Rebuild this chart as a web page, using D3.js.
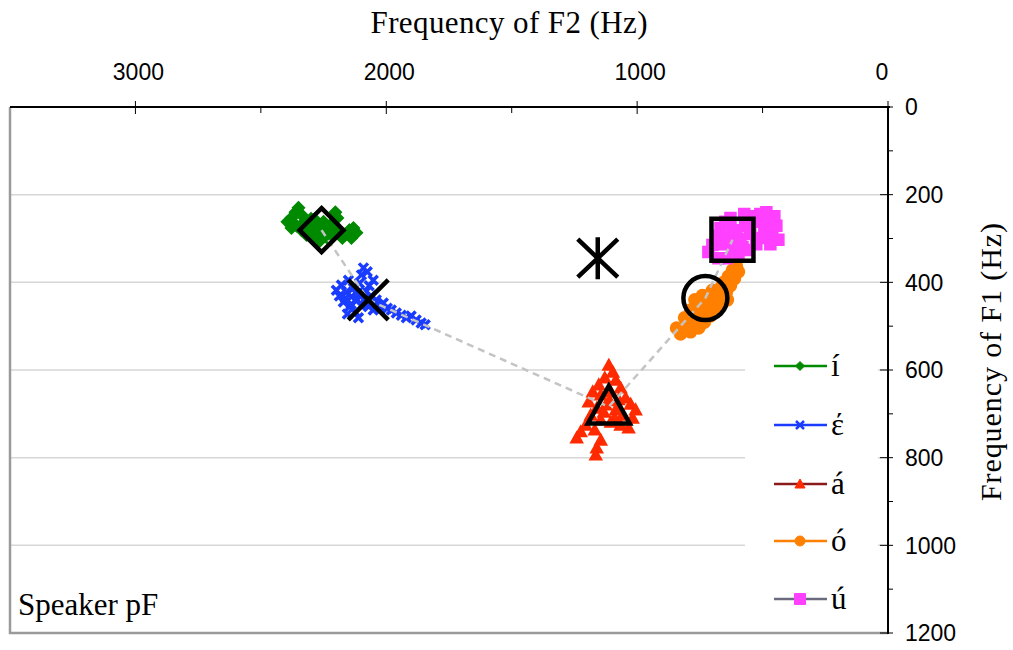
<!DOCTYPE html>
<html>
<head>
<meta charset="utf-8">
<script src="https://cdn.jsdelivr.net/npm/d3@7"></script>
<style>
  body { margin: 0; background: #fff; }
  svg { display: block; }
</style>
</head>
<body>
<script>
// vowel categories, legend order
var vowels = ["í", "έ", "á", "ó", "ú"];
var pointColors = ["#008a00", "#1a3cff", "#ff2a00", "#ff8000", "#ff40ff"];
var legendLineColors = ["#008a00", "#1a3cff", "#8b1a1a", "#ff8000", "#6b6b80"];

// tokens [F2, F1] in Hz
var tokensI = [[2394,262],[2378,253],[2362,240],[2350,230],[2338,246],[2358,271],[2326,262],[2314,281],[2298,269],[2286,256],[2274,271],[2258,285],[2250,262],[2238,297],[2227,278],[2215,294],[2203,240],[2195,253],[2187,283],[2175,299],[2163,290],[2147,281],[2131,276],[2119,287],[2139,299],[2290,299],[2318,292],[2338,281],[2266,306],[2378,276],[2219,267],[2260,280],[2240,270],[2280,290],[2300,255],[2205,275]];
var tokensE = [[2199,418],[2187,431],[2179,406],[2171,445],[2159,422],[2151,395],[2147,456],[2139,433],[2131,413],[2123,468],[2115,440],[2107,402],[2099,383],[2091,367],[2083,422],[2076,449],[2068,408],[2060,431],[2052,463],[2040,440],[2028,454],[2012,447],[1996,459],[1980,463],[1960,470],[1940,475],[1920,481],[1901,477],[1881,486],[1861,493],[1845,497],[2155,472],[2111,481],[2099,454],[2076,376],[2052,395],[2163,436],[2090,440],[2120,425],[2140,450],[2100,425],[2070,455]];
var tokensA = [[1113,589],[1097,605],[1129,618],[1153,634],[1085,623],[1066,641],[1177,650],[1145,657],[1105,650],[1046,664],[1026,678],[1006,691],[1193,673],[1161,687],[1125,680],[1085,691],[1058,703],[1018,710],[1185,703],[1145,714],[1105,719],[1066,726],[1034,732],[1205,726],[1225,741],[1241,755],[1169,737],[1145,760],[1161,778],[1165,794],[1074,668],[1133,696],[1110,670],[1090,710]];
var tokensO = [[604,363],[620,372],[596,376],[636,386],[612,392],[652,399],[628,408],[668,413],[644,422],[684,427],[660,436],[700,440],[676,449],[716,454],[692,463],[732,468],[708,477],[747,477],[763,486],[732,491],[779,495],[755,504],[795,500],[811,509],[787,513],[827,518],[771,472],[724,431],[747,449],[700,418],[803,486],[843,504],[740,430],[715,445],[787,463],[660,406],[747,497],[688,440],[811,481],[640,440],[770,440]];
var tokensU = [[700,315],[716,331],[684,294],[668,276],[648,262],[628,253],[608,281],[588,303],[569,271],[557,326],[541,249],[525,262],[509,244],[493,281],[477,258],[461,294],[445,271],[437,303],[469,313],[501,299],[525,313],[573,244],[596,340],[644,345],[676,345],[549,290],[620,322],[660,313],[485,240],[453,249],[620,290],[600,300],[640,300],[580,320]];
var tokens = [tokensI, tokensE, tokensA, tokensO, tokensU];

// vowel means [F2, F1]
var meanF2 = [2258, 2072, 1113, 728, 620];
var meanF1 = [281, 440, 684, 436, 303];
// central reference point (asterisk)
var centerF2 = 1157;
var centerF1 = 345;

var xTicks = [3000, 2000, 1000, 0];
var xMinor = [2500, 1500, 500];
var yTicks = [0, 200, 400, 600, 800, 1000, 1200];
var yMinor = [100, 300, 500, 700, 900, 1100];
var gridVals = [200, 400, 600, 800, 1000];

var W = 1013, H = 650;
var plotL = 10, plotR = 888, plotT = 107, plotB = 633;

var svg = d3.select("body").append("svg").attr("width", W).attr("height", H);

var x = d3.scaleLinear().domain([3500, 0]).range([plotL, plotR]);
var y = d3.scaleLinear().domain([0, 1200]).range([plotT, plotB]);

var sans = "'Liberation Sans', Arial, Helvetica, sans-serif";
var serif = "'Liberation Serif', 'Times New Roman', serif";

// gridlines
svg.append("g").selectAll("line").data(gridVals).join("line")
  .attr("x1", plotL).attr("x2", plotR)
  .attr("y1", d => y(d)).attr("y2", d => y(d))
  .attr("stroke", "#d6d6d6").attr("stroke-width", 1.5);

// legend background covers the grid
svg.append("rect").attr("x", 745).attr("y", 340).attr("width", 133).attr("height", 290).attr("fill", "#fff");

// frame left and bottom
svg.append("path")
  .attr("d", "M" + plotL + "," + plotT + "V" + plotB + "H" + plotR)
  .attr("fill", "none").attr("stroke", "#9a9a9a").attr("stroke-width", 2.5);

// marker shapes
function markerPath(kind, s) {
  if (kind == 0) return "M0," + (-s) + "L" + s + ",0L0," + s + "L" + (-s) + ",0Z";
  if (kind == 1) return "M" + (-s) + "," + (-s) + "L" + s + "," + s + "M" + s + "," + (-s) + "L" + (-s) + "," + s;
  if (kind == 2) return "M0," + (-s) + "L" + s + "," + (s * 0.8) + "L" + (-s) + "," + (s * 0.8) + "Z";
  if (kind == 3) return d3.symbol(d3.symbolCircle, Math.PI * s * s)();
  return "M" + (-s) + "," + (-s) + "H" + s + "V" + s + "H" + (-s) + "Z";
}
var smallSize = [6, 4.5, 6, 6, 5.5];

tokens.forEach(function (pts, i) {
  svg.append("g").selectAll("path").data(pts).join("path")
    .attr("transform", d => "translate(" + x(d[0]) + "," + y(d[1]) + ")")
    .attr("d", markerPath(i, smallSize[i]))
    .attr("fill", i == 1 ? "none" : pointColors[i])
    .attr("stroke", pointColors[i])
    .attr("stroke-width", i == 1 ? 3.5 : 1.5);
});

// dashed line through the means
var meanPts = meanF2.map((d, i) => [d, meanF1[i]]);
svg.append("path").datum(meanPts)
  .attr("d", d3.line().x(d => x(d[0])).y(d => y(d[1])))
  .attr("fill", "none").attr("stroke", "#c4c4c4").attr("stroke-width", 2.5)
  .attr("stroke-dasharray", "7,5");

// big mean markers
var bigSize = [22, 20, 21, 22, 21];
svg.append("g").selectAll("path").data(meanPts).join("path")
  .attr("transform", d => "translate(" + x(d[0]) + "," + y(d[1]) + ")")
  .attr("d", (d, i) => markerPath(i, bigSize[i]))
  .attr("fill", "none").attr("stroke", "#000").attr("stroke-width", 4.5)
  .attr("stroke-linejoin", "miter");

// asterisk
svg.append("path")
  .attr("transform", "translate(" + x(centerF2) + "," + y(centerF1) + ")")
  .attr("d", "M0,-21V21M-20,-19L20,19M20,-19L-20,19")
  .attr("stroke", "#000").attr("stroke-width", 4.5);

// top axis
var gx = svg.append("g").attr("transform", "translate(0," + plotT + ")");
gx.append("line").attr("x1", plotL).attr("x2", plotR + 2).attr("stroke", "#000").attr("stroke-width", 2);
gx.selectAll(".maj").data(xTicks).join("line")
  .attr("x1", d => x(d)).attr("x2", d => x(d)).attr("y1", -6).attr("y2", 7)
  .attr("stroke", "#000").attr("stroke-width", 1);
gx.selectAll(".min").data(xMinor).join("line")
  .attr("x1", d => x(d)).attr("x2", d => x(d)).attr("y1", 0).attr("y2", 6)
  .attr("stroke", "#000").attr("stroke-width", 1);
gx.selectAll("text").data(xTicks).join("text")
  .attr("x", d => x(d) + (d == 0 ? -6 : 3)).attr("y", -27)
  .attr("text-anchor", "middle").attr("font-family", sans).attr("font-size", 23)
  .text(d => d);

// right axis
var gy = svg.append("g").attr("transform", "translate(" + plotR + ",0)");
gy.append("line").attr("y1", plotT - 1).attr("y2", plotB + 1).attr("stroke", "#000").attr("stroke-width", 2);
gy.selectAll(".maj").data(yTicks).join("line")
  .attr("y1", d => y(d)).attr("y2", d => y(d)).attr("x1", -8).attr("x2", 5)
  .attr("stroke", "#000").attr("stroke-width", 1);
gy.selectAll(".min").data(yMinor).join("line")
  .attr("y1", d => y(d)).attr("y2", d => y(d)).attr("x1", 0).attr("x2", 5)
  .attr("stroke", "#000").attr("stroke-width", 1);
gy.selectAll("text").data(yTicks).join("text")
  .attr("x", 17).attr("y", d => y(d)).attr("dy", "0.36em")
  .attr("font-family", sans).attr("font-size", 23)
  .text(d => d);

// axis titles
svg.append("text").attr("x", 509).attr("y", 33).attr("text-anchor", "middle")
  .attr("font-family", serif).attr("font-size", 31).attr("textLength", 277)
  .text("Frequency of F2 (Hz)");
svg.append("text").attr("transform", "translate(1001,362) rotate(-90)").attr("text-anchor", "middle")
  .attr("font-family", serif).attr("font-size", 30).attr("textLength", 278)
  .text("Frequency of F1 (Hz)");

svg.append("text").attr("x", 18).attr("y", 615)
  .attr("font-family", serif).attr("font-size", 31)
  .text("Speaker pF");

// legend
var legRows = [366, 425, 484, 541, 599];
var leg = svg.append("g").selectAll("g").data(vowels).join("g")
  .attr("transform", (d, i) => "translate(0," + legRows[i] + ")");
leg.append("line").attr("x1", 774).attr("x2", 827)
  .attr("stroke", (d, i) => legendLineColors[i]).attr("stroke-width", 2.5);
leg.append("path")
  .attr("transform", "translate(800,0)")
  .attr("d", (d, i) => markerPath(i, [4.5, 4, 5, 5, 5.5][i]))
  .attr("fill", (d, i) => i == 1 ? "none" : pointColors[i])
  .attr("stroke", (d, i) => pointColors[i])
  .attr("stroke-width", (d, i) => i == 1 ? 2.5 : 1);
leg.append("text").attr("x", 831).attr("y", 10)
  .attr("font-family", serif).attr("font-size", 31)
  .text(d => d);
</script>
</body>
</html>
